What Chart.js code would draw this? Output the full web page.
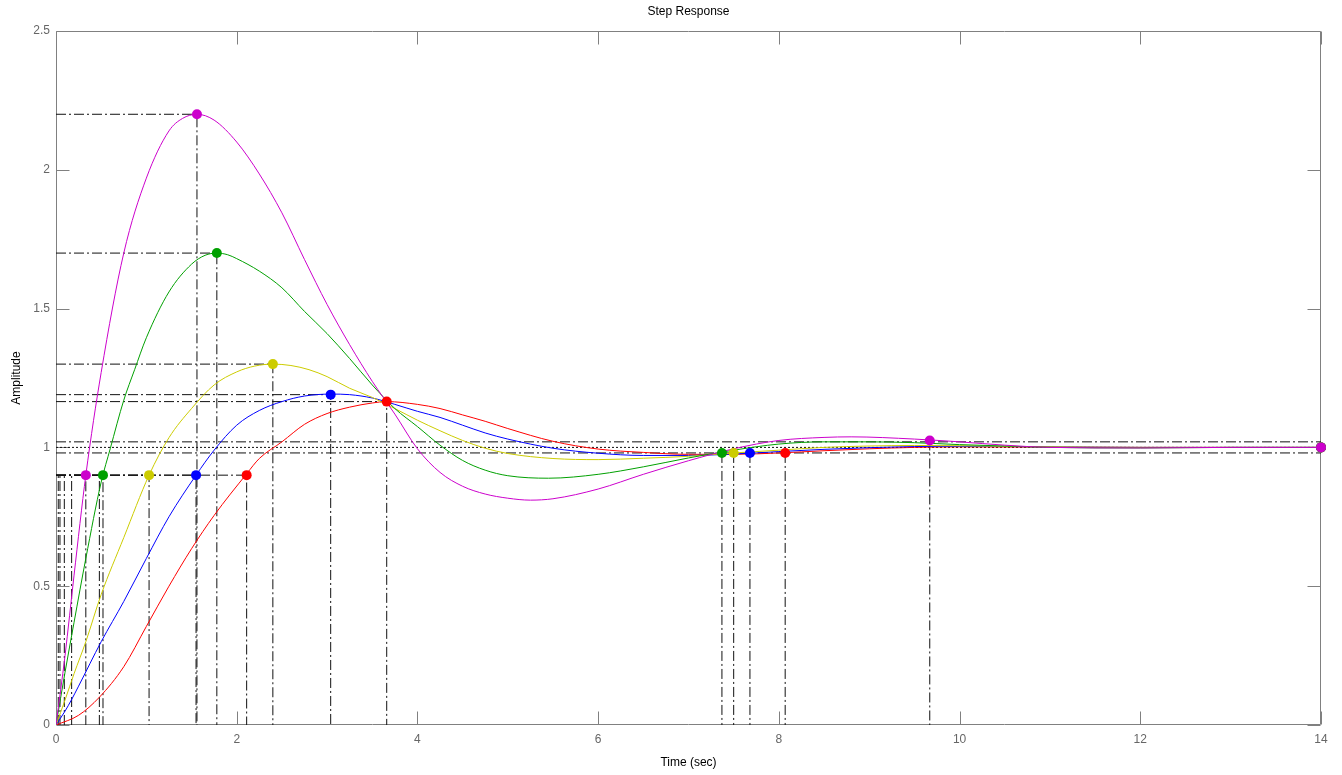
<!DOCTYPE html>
<html>
<head>
<meta charset="utf-8">
<script src="https://cdn.jsdelivr.net/npm/chart.js@4/dist/chart.umd.min.js"></script>
<style>
html,body{margin:0;padding:0;background:#fff;}
#wrap{width:1342px;height:775px;position:relative;}
</style>
</head>
<body>
<div id="wrap"><canvas id="c"></canvas></div>
<script>
// ---------- data ----------
const chartTitle = 'Step Response';
const xTitle = 'Time (sec)';
const yTitle = 'Amplitude';
const xTickValues = [0, 2, 4, 6, 8, 10, 12, 14];
const yTickValues = [0, 0.5, 1, 1.5, 2, 2.5];
const xTickLabels = ['0', '2', '4', '6', '8', '10', '12', '14'];
const yTickLabels = ['0', '0.5', '1', '1.5', '2', '2.5'];

const curveNames = ['magenta', 'green', 'yellow', 'blue', 'red'];
const curveColors = ['#cc00cc', '#00a000', '#cccc00', '#0000ff', '#ff0000'];

const magentaTime = [0,0.1,0.2,0.33,0.5,0.75,1,1.25,1.4,1.56,1.75,2,2.25,2.5,2.75,3,3.25,3.5,3.75,4,4.25,4.5,4.75,5,5.25,5.5,6,6.5,7,7.5,8,8.5,8.8,9.5,10,10.5,11,12,13,14];
const magentaAmp  = [0,0.25,0.54,0.9,1.27,1.70,1.97,2.14,2.185,2.2,2.179,2.1,1.985,1.845,1.677,1.515,1.37,1.238,1.12,0.995,0.91,0.86,0.832,0.817,0.81,0.815,0.85,0.903,0.952,0.995,1.025,1.036,1.038,1.03,1.02,1.008,1.0,0.998,1.0,1.0];

const greenTime = [0,0.1,0.2,0.33,0.5,0.6,0.75,0.87,1,1.25,1.5,1.65,1.78,1.9,2,2.25,2.5,2.75,3,3.25,3.5,3.75,4,4.25,4.5,4.75,5,5.45,6,6.5,7,7.5,8,8.5,9,9.5,10,10.5,11,12,13,14];
const greenAmp  = [0,0.19,0.37,0.6,0.875,0.995,1.17,1.28,1.395,1.56,1.66,1.692,1.7,1.694,1.68,1.635,1.575,1.49,1.41,1.32,1.225,1.14,1.075,1.008,0.953,0.918,0.898,0.889,0.903,0.93,0.962,0.99,1.012,1.02,1.02,1.017,1.01,1.005,1.0,0.998,1.0,1.0];

const yellowTime = [0,0.1,0.2,0.33,0.5,0.75,1.03,1.25,1.5,1.75,2,2.2,2.4,2.6,2.8,3,3.25,3.5,3.75,4,4.25,4.5,4.75,5,5.5,6,6.5,7,7.5,8,8.5,9,9.5,10,11,12,13,14];
const yellowAmp  = [0,0.09,0.185,0.3,0.47,0.675,0.9,1.035,1.14,1.225,1.272,1.293,1.3,1.295,1.28,1.255,1.213,1.18,1.14,1.098,1.06,1.025,0.997,0.978,0.96,0.956,0.961,0.968,0.98,0.99,1.0,1.005,1.007,1.006,1.002,1.0,1.0,1.0];

const blueTime = [0,0.1,0.17,0.25,0.5,0.75,1,1.25,1.55,1.75,2,2.25,2.5,2.75,3.04,3.25,3.5,3.75,4,4.25,4.5,4.75,5,5.5,6,6.5,7,7.5,8,8.5,9,9.5,10,11,12,13,14];
const blueAmp  = [0,0.05,0.09,0.14,0.3,0.445,0.6,0.75,0.9,0.99,1.08,1.133,1.165,1.185,1.192,1.19,1.178,1.155,1.13,1.108,1.08,1.052,1.03,0.997,0.979,0.971,0.971,0.976,0.985,0.993,0.999,1.003,1.004,1.002,1.0,1.0,1.0];

const redTime = [0,0.25,0.48,0.75,1,1.25,1.5,1.75,2.11,2.25,2.5,2.75,3,3.25,3.5,3.66,4,4.25,4.5,4.75,5,5.5,6,6.5,7,7.5,8,8.5,9,9.5,10,11,12,13,14];
const redAmp  = [0,0.035,0.1,0.21,0.355,0.5,0.635,0.755,0.905,0.96,1.02,1.083,1.122,1.145,1.16,1.165,1.155,1.14,1.117,1.094,1.068,1.022,0.994,0.982,0.975,0.975,0.98,0.988,0.995,1.0,1.002,1.001,1.0,1.0,1.0];

// characteristic points (magenta, green, yellow, blue, red)
const peakTimes   = [1.56, 1.78, 2.40, 3.04, 3.66];
const peakValues  = [2.2, 1.70, 1.30, 1.19, 1.165];
const riseStartTimes = [0.025, 0.044, 0.092, 0.173, 0.48];
const riseEndTimes   = [0.33, 0.52, 1.03, 1.55, 2.11];
const riseLevel = 0.9;
const settleTimes  = [9.67, 7.37, 7.50, 7.68, 8.07];
const settleValues = [1.025, 0.98, 0.98, 0.98, 0.98];
const finalTime = 14;
const finalValue = 1;
const bandHigh = 1.02;
const bandLow = 0.98;

// ---------- build chart ----------
const curveTimes = [magentaTime, greenTime, yellowTime, blueTime, redTime];
const curveAmps  = [magentaAmp, greenAmp, yellowAmp, blueAmp, redAmp];
const dashDot = [10, 3, 2, 3];
const refColor = '#111';

const toPts = (xs, ys) => xs.map((x, i) => ({x: x, y: ys[i]}));
const datasets = [];

curveNames.forEach((n, i) => {
  datasets.push({
    label: n + ' markers',
    data: [
      {x: riseEndTimes[i], y: riseLevel},
      {x: peakTimes[i], y: peakValues[i]},
      {x: settleTimes[i], y: settleValues[i]},
      {x: finalTime, y: finalValue}
    ],
    showLine: false,
    pointRadius: 5,
    pointHoverRadius: 5,
    pointBackgroundColor: curveColors[i],
    pointBorderColor: curveColors[i],
    pointBorderWidth: 0,
    clip: false,
    order: 0
  });
});

curveNames.forEach((n, i) => {
  datasets.push({
    label: n,
    data: toPts(curveTimes[i], curveAmps[i]),
    showLine: true,
    borderColor: curveColors[i],
    borderWidth: 1,
    pointRadius: 0,
    cubicInterpolationMode: 'monotone',
    order: 1
  });
});

function refLine(pts, dash) {
  datasets.push({
    label: 'ref',
    data: pts,
    showLine: true,
    borderColor: refColor,
    borderWidth: 1,
    borderDash: dash,
    pointRadius: 0,
    tension: 0,
    order: 2
  });
}

curveNames.forEach((n, i) => {
  refLine([{x: 0, y: peakValues[i]}, {x: peakTimes[i], y: peakValues[i]}, {x: peakTimes[i], y: 0}], dashDot);
  refLine([{x: 0, y: riseLevel}, {x: riseEndTimes[i], y: riseLevel}, {x: riseEndTimes[i], y: 0}], dashDot);
  refLine([{x: riseStartTimes[i], y: 0}, {x: riseStartTimes[i], y: riseLevel}], dashDot);
  refLine([{x: settleTimes[i], y: settleValues[i]}, {x: settleTimes[i], y: 0}], dashDot);
});
refLine([{x: 0, y: bandHigh}, {x: finalTime, y: bandHigh}], dashDot);
refLine([{x: 0, y: bandLow}, {x: finalTime, y: bandLow}], dashDot);
refLine([{x: 0, y: finalValue}, {x: finalTime, y: finalValue}], [2, 2]);

const matlabAxes = {
  id: 'matlabAxes',
  beforeDatasetsDraw(chart) {
    const {ctx, chartArea: a, scales} = chart;
    const L = Math.round(a.left) + 0.5, R = Math.round(a.right) - 0.5;
    const T = Math.round(a.top) + 0.5, B = Math.round(a.bottom) - 0.5;
    ctx.save();
    ctx.strokeStyle = '#808080';
    ctx.lineWidth = 1;
    ctx.beginPath();
    ctx.rect(L, T, R - L, B - T);
    xTickValues.forEach(v => {
      const p = Math.round(scales.x.getPixelForValue(v)) + 0.5;
      ctx.moveTo(p, B); ctx.lineTo(p, B - 13);
      ctx.moveTo(p, T); ctx.lineTo(p, T + 13);
    });
    yTickValues.forEach(v => {
      const p = Math.round(scales.y.getPixelForValue(v)) + 0.5;
      ctx.moveTo(L, p); ctx.lineTo(L + 13, p);
      ctx.moveTo(R, p); ctx.lineTo(R - 13, p);
    });
    ctx.stroke();
    ctx.restore();
  },
  afterDraw(chart) {
    const {ctx, chartArea: a} = chart;
    ctx.save();
    ctx.fillStyle = '#000';
    ctx.font = '12px "Liberation Sans", Arial, sans-serif';
    ctx.textAlign = 'center';
    ctx.textBaseline = 'middle';
    ctx.fillText(chartTitle, (a.left + a.right) / 2, 12);
    ctx.restore();
  }
};

Chart.defaults.font.family = '"Liberation Sans", Arial, sans-serif';

new Chart(document.getElementById('c'), {
  type: 'scatter',
  data: {datasets: datasets},
  options: {
    responsive: true,
    maintainAspectRatio: false,
    animation: false,
    devicePixelRatio: 1,
    layout: {padding: {top: 31, right: 21, left: 0, bottom: 0}},
    plugins: {legend: {display: false}, tooltip: {enabled: false}, title: {display: false}},
    scales: {
      x: {
        type: 'linear', min: 0, max: 14,
        afterBuildTicks: s => { s.ticks = xTickValues.map(v => ({value: v})); },
        afterFit: s => { s.height = 50; },
        grid: {display: false, drawTicks: false, tickLength: 0},
        border: {display: false},
        ticks: {color: '#666', font: {size: 12}, padding: 7, maxRotation: 0, autoSkip: false,
                callback: (v) => xTickLabels[xTickValues.indexOf(v)]},
        title: {display: true, text: xTitle, color: '#000', font: {size: 12}, padding: {top: 0, bottom: 5}}
      },
      y: {
        type: 'linear', min: 0, max: 2.5,
        afterBuildTicks: s => { s.ticks = yTickValues.map(v => ({value: v})); },
        afterFit: s => { s.width = 56; },
        grid: {display: false, drawTicks: false, tickLength: 0},
        border: {display: false},
        ticks: {color: '#666', font: {size: 12}, padding: 6, autoSkip: false,
                callback: (v) => yTickLabels[yTickValues.indexOf(v)]},
        title: {display: true, text: yTitle, color: '#000', font: {size: 12}, padding: {top: 9, bottom: 0}}
      }
    }
  },
  plugins: [matlabAxes]
});
</script>
</body>
</html>
